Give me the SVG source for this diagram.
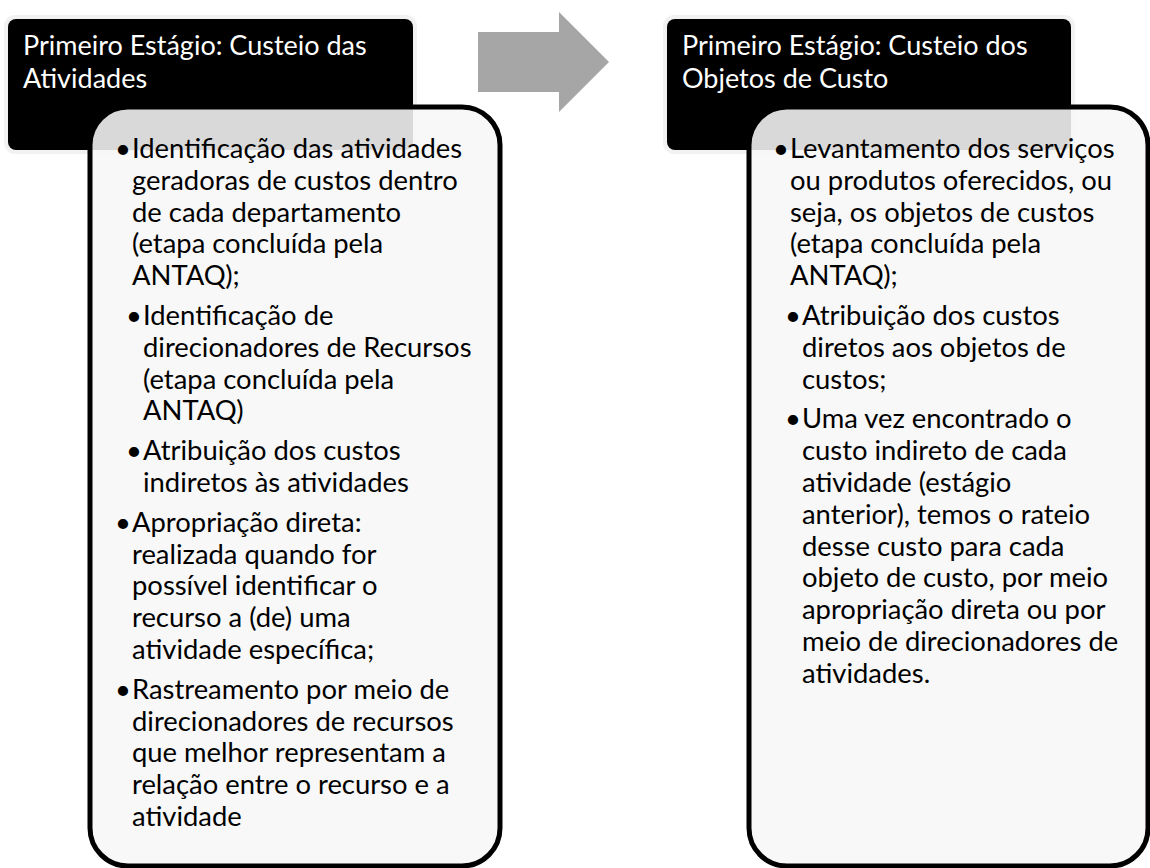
<svg xmlns="http://www.w3.org/2000/svg" width="1150" height="868" viewBox="0 0 1150 868">
<style>
.halo{fill:#f2f2f2}
.hdr{fill:#000}
.card{fill:#f7f7f7;fill-opacity:0.88;stroke:#000;stroke-width:5}
.ht{font-family:Lato,"Open Sans",sans-serif;font-size:27px;fill:#fff}
.bt{font-family:Lato,"Open Sans",sans-serif;font-size:27.4px;fill:#000}
.bu{font-family:Lato,"Open Sans",sans-serif;font-size:27.4px;fill:#000;text-anchor:end}
.arrow{fill:#a6a6a6}
</style>
<rect width="1150" height="868" fill="#fff"/>
<g id="connectors">
<polygon class="arrow" points="478,32 559,32 559,12 609,62 559,112 559,92 478,92"/>
</g>
<g id="left-header">
<rect class="halo" x="4" y="15" width="413" height="139" rx="11"/>
<rect class="hdr" x="8" y="19" width="405" height="131" rx="8"/>
<text class="ht" x="23" y="55">Primeiro Estágio: Custeio das</text>
<text class="ht" x="23" y="88">Atividades</text>
</g>
<g id="left-card">
<rect class="card" x="90" y="107" width="410" height="759" rx="38"/>
<text class="bu" x="131" y="158">•</text>
<text class="bt" x="132" y="158">Identificação das atividades</text>
<text class="bt" x="132" y="190">geradoras de custos dentro</text>
<text class="bt" x="132" y="222">de cada departamento</text>
<text class="bt" x="132" y="253">(etapa concluída pela</text>
<text class="bt" x="132" y="285">ANTAQ);</text>
<text class="bu" x="142" y="325">•</text>
<text class="bt" x="143" y="325">Identificação de</text>
<text class="bt" x="143" y="357">direcionadores de Recursos</text>
<text class="bt" x="143" y="389">(etapa concluída pela</text>
<text class="bt" x="143" y="420">ANTAQ)</text>
<text class="bu" x="142" y="460">•</text>
<text class="bt" x="143" y="460">Atribuição dos custos</text>
<text class="bt" x="143" y="492">indiretos às atividades</text>
<text class="bu" x="131" y="532">•</text>
<text class="bt" x="132" y="532">Apropriação direta:</text>
<text class="bt" x="132" y="564">realizada quando for</text>
<text class="bt" x="132" y="595">possível identificar o</text>
<text class="bt" x="132" y="627">recurso a (de) uma</text>
<text class="bt" x="132" y="659">atividade específica;</text>
<text class="bu" x="131" y="699">•</text>
<text class="bt" x="132" y="699">Rastreamento por meio de</text>
<text class="bt" x="132" y="731">direcionadores de recursos</text>
<text class="bt" x="132" y="762">que melhor representam a</text>
<text class="bt" x="132" y="794">relação entre o recurso e a</text>
<text class="bt" x="132" y="826">atividade</text>
</g>
<g id="right-header">
<rect class="halo" x="663" y="15" width="412" height="139" rx="11"/>
<rect class="hdr" x="667" y="19" width="404" height="131" rx="8"/>
<text class="ht" x="682" y="55">Primeiro Estágio: Custeio dos</text>
<text class="ht" x="682" y="88">Objetos de Custo</text>
</g>
<g id="right-card">
<rect class="card" x="749" y="107" width="399" height="759" rx="38"/>
<text class="bu" x="789" y="158">•</text>
<text class="bt" x="790" y="158">Levantamento dos serviços</text>
<text class="bt" x="790" y="190">ou produtos oferecidos, ou</text>
<text class="bt" x="790" y="222">seja, os objetos de custos</text>
<text class="bt" x="790" y="253">(etapa concluída pela</text>
<text class="bt" x="790" y="285">ANTAQ);</text>
<text class="bu" x="801" y="325">•</text>
<text class="bt" x="802" y="325">Atribuição dos custos</text>
<text class="bt" x="802" y="357">diretos aos objetos de</text>
<text class="bt" x="802" y="389">custos;</text>
<text class="bu" x="801" y="428">•</text>
<text class="bt" x="802" y="428">Uma vez encontrado o</text>
<text class="bt" x="802" y="460">custo indireto de cada</text>
<text class="bt" x="802" y="492">atividade (estágio</text>
<text class="bt" x="802" y="524">anterior), temos o rateio</text>
<text class="bt" x="802" y="556">desse custo para cada</text>
<text class="bt" x="802" y="587">objeto de custo, por meio</text>
<text class="bt" x="802" y="619">apropriação direta ou por</text>
<text class="bt" x="802" y="651">meio de direcionadores de</text>
<text class="bt" x="802" y="683">atividades.</text>
</g>
</svg>
